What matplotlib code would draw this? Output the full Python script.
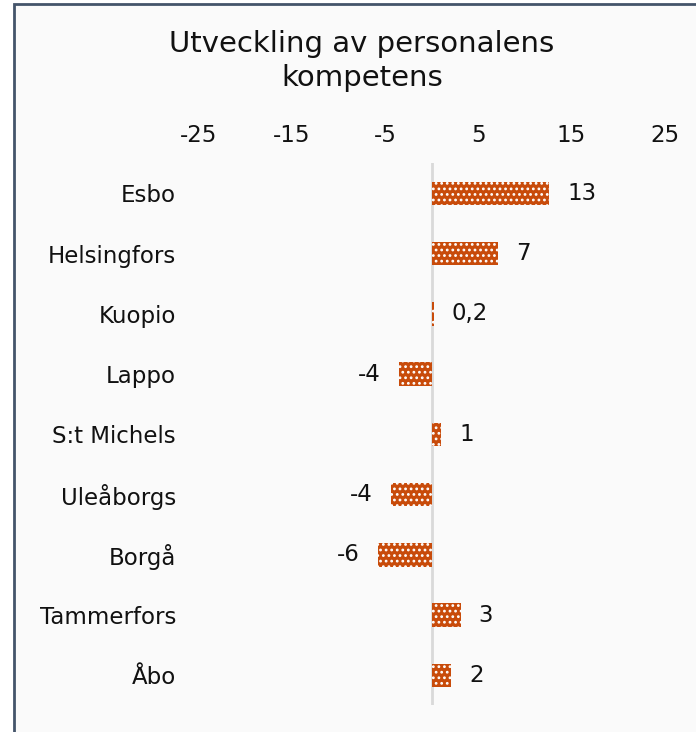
import matplotlib
matplotlib.use('Agg')
import matplotlib.pyplot as plt
from matplotlib.patches import Rectangle

categories = ["Esbo", "Helsingfors", "Kuopio", "Lappo", "S:t Michels",
              "Uleåborgs", "Borgå", "Tammerfors", "Åbo"]
values = [12.6, 7.1, 0.2, -3.5, 1.0, -4.4, -5.8, 3.1, 2.1]
value_labels = ["13", "7", "0,2", "-4", "1", "-4", "-6", "3", "2"]
x_ticks = [-25, -15, -5, 5, 15, 25]
title = "Utveckling av personalens\nkompetens"

W, H = 696, 732
plt.rcParams['font.family'] = ['DejaVu Sans']
plt.rcParams['hatch.linewidth'] = 1.2

fig = plt.figure(figsize=(W / 100, H / 100), dpi=100, facecolor='white')
fig.patches.append(Rectangle((13.5 / W, -0.1), 1.2, 1.1 - 4.5 / H,
                             transform=fig.transFigure, facecolor='#fafafa',
                             edgecolor='#44546a', linewidth=2, zorder=-5))

ax = fig.add_axes([199 / W, 1 - 705.4 / H, (664.5 - 199) / W, (705.4 - 163.2) / H])
ax.set_facecolor('none')
ax.set_zorder(2)

ypos = list(range(len(categories)))
ax.barh(ypos, values, height=0.39, color='#C84B0A', edgecolor='white',
        linewidth=0, hatch='...', zorder=2)
ax.axvline(0, color='#d9d9d9', lw=2, zorder=1)

ax.set_xlim(-25, 25)
ax.set_ylim(len(categories) - 0.5, -0.5)
ax.xaxis.tick_top()
ax.set_xticks(x_ticks)
ax.set_xticklabels([str(t) for t in x_ticks])
ax.set_yticks(ypos)
ax.set_yticklabels(categories)
ax.tick_params(axis='x', length=0, pad=12, labelsize=16.5, colors='#111111')
ax.tick_params(axis='y', length=0, pad=16.5, labelsize=16.5, colors='#111111')
for s in ax.spines.values():
    s.set_visible(False)

for y, v, lab in zip(ypos, values, value_labels):
    if v >= 0:
        ax.annotate(lab, (v, y), xytext=(13, 0), textcoords='offset points',
                    ha='left', va='center', fontsize=16.5, color='#111111')
    else:
        ax.annotate(lab, (v, y), xytext=(-13, 0), textcoords='offset points',
                    ha='right', va='center', fontsize=16.5, color='#111111')

fig.text(362 / W, 1 - 30 / H, title, ha='center', va='top', fontsize=21,
         linespacing=1.25, color='#111111', zorder=3)

fig.savefig('out.png', dpi=100, facecolor=fig.get_facecolor())
